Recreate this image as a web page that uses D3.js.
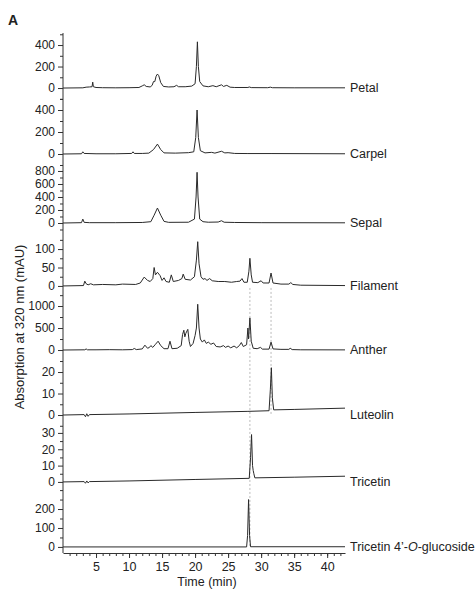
<!DOCTYPE html>
<html>
<head>
<meta charset="utf-8">
<script src="https://cdn.jsdelivr.net/npm/d3@7"></script>
<style>
  body { margin: 0; background: #fff; }
  text { font-family: "Liberation Sans", Arial, sans-serif; fill: #222; }
  .trace { fill: none; stroke: #2a2a2a; stroke-width: 1; stroke-linejoin: round; }
  .axis path, .axis line { stroke: #333; }
</style>
</head>
<body>
<div id="chart"></div>
<script>
// Data: chromatograms as [time (min), absorbance (mAU)]
const petal = [[0,0],[3.0,2],[3.5,8],[4.0,10],[4.4,12],[4.5,55],[4.6,12],[5.0,5],[6,3],[8,2],[10,3],[11.5,5],[12.0,20],[12.3,30],[12.6,15],[13.2,10],[13.5,25],[13.7,60],[13.9,60],[14.1,110],[14.3,130],[14.5,115],[14.8,50],[15.2,15],[16,10],[16.8,12],[17.2,25],[17.5,12],[18.5,12],[19.5,18],[20.0,40],[20.2,200],[20.35,430],[20.5,200],[20.7,60],[21.2,20],[22,12],[22.7,22],[23.2,12],[24.0,30],[24.3,15],[24.8,25],[25.3,8],[26,5],[28,5],[28.2,10],[28.5,4],[31,3],[31.4,8],[31.7,3],[35,2],[42.7,2]]
const carpel = [[0,0],[2.8,2],[3.0,20],[3.2,5],[5,2],[8,2],[10.4,5],[10.6,20],[10.8,5],[12,5],[13,8],[13.7,40],[14.3,90],[14.8,40],[15.3,10],[17,8],[19,12],[19.8,20],[20.1,150],[20.3,400],[20.5,150],[20.8,30],[21.5,10],[22.5,15],[23,8],[24,25],[24.5,10],[25,12],[26,5],[28,4],[31.5,4],[42.7,2]]
const sepal = [[0,0],[2.8,5],[3.0,60],[3.2,10],[4,5],[8,5],[12,8],[13.3,20],[13.8,120],[14.3,230],[14.8,120],[15.3,25],[16,10],[19,12],[19.9,60],[20.15,400],[20.3,780],[20.45,400],[20.7,60],[21.2,20],[22,12],[23.5,15],[24,35],[24.4,12],[26,8],[30,5],[42.7,3]]
const filament = [[0,0],[3.1,1],[3.3,13],[3.5,6],[3.8,3],[4.2,6],[4.6,3],[6,4],[8,3],[9,5],[11,4],[11.7,8],[12.3,24],[12.8,15],[13.2,12],[13.6,20],[13.8,50],[14.0,30],[14.3,37],[14.7,28],[15.0,15],[15.3,22],[15.6,12],[16.1,10],[16.4,30],[16.7,12],[17.5,15],[18.0,20],[18.2,32],[18.5,18],[19.3,16],[19.9,25],[20.2,70],[20.4,120],[20.6,60],[20.9,25],[21.2,18],[21.5,20],[21.8,15],[22.2,20],[22.6,14],[23.5,12],[24.5,12],[25.5,10],[26.3,12],[26.8,13],[27.1,20],[27.4,10],[27.9,10],[28.15,40],[28.3,75],[28.5,30],[28.7,10],[29.5,9],[30.0,14],[30.3,8],[31.2,8],[31.5,35],[31.8,8],[33,5],[34.2,5],[34.5,9],[34.8,4],[36,2],[42.7,1]]
const anther = [[0,0],[3.3,5],[3.5,25],[3.7,5],[5,5],[7,8],[9,5],[10.5,10],[10.8,35],[11.1,10],[12,25],[12.4,110],[12.8,40],[13.1,60],[13.3,100],[13.6,60],[14.0,130],[14.4,200],[14.8,100],[15.3,30],[15.9,30],[16.2,200],[16.5,30],[17.3,40],[17.9,100],[18.1,350],[18.3,450],[18.45,300],[18.6,380],[18.9,470],[19.1,200],[19.3,80],[19.7,150],[20.0,330],[20.2,500],[20.4,1040],[20.6,500],[20.8,250],[21.1,180],[21.4,230],[21.7,150],[22.0,180],[22.4,130],[22.8,160],[23.2,80],[23.8,70],[24.3,100],[24.6,60],[25.0,90],[25.4,50],[25.9,90],[26.3,50],[26.7,100],[27.0,170],[27.3,80],[27.8,120],[28.0,500],[28.1,250],[28.3,730],[28.5,200],[28.8,40],[29.4,30],[29.9,60],[30.2,20],[31.2,20],[31.5,180],[31.8,25],[33,15],[34.2,15],[34.4,40],[34.7,10],[36,5],[42.7,3]]
const luteolin = [[0,0],[3.2,0.2],[3.4,-0.8],[3.6,0.6],[3.8,-0.6],[4.0,0.2],[10,0.5],[20,1.2],[28,1.7],[31.2,2.0],[31.4,12],[31.55,22],[31.7,8],[31.9,2.4],[35,2.6],[42.7,3.2]]
const tricetin = [[0,0],[3.2,0.2],[3.4,-0.8],[3.6,0.6],[3.8,-0.6],[4.0,0.2],[10,0.6],[20,1.5],[28.2,2.2],[28.4,15],[28.55,29],[28.7,10],[28.8,7],[28.9,5],[29.05,2.5],[35,2.9],[42.7,3.5]]
const glucoside = [[0,0],[27.8,0],[27.95,60],[28.1,250],[28.25,60],[28.4,1],[42.7,1]]

const panelNames = ["Petal", "Carpel", "Sepal", "Filament", "Anther", "Luteolin", "Tricetin", "Tricetin 4\u2019-O-glucoside"]
const panelData = [petal, carpel, sepal, filament, anther, luteolin, tricetin, glucoside]
const panelDomains = [[-102, 512], [-100, 500], [-123, 892], [-30, 149], [-295, 1205], [-6.5, 24.2], [-8, 32.4], [-32, 274]]
const majorTicks = [[0, 200, 400], [0, 200, 400], [0, 200, 400, 600, 800], [0, 50, 100], [0, 500, 1000], [0, 10, 20], [0, 10, 20, 30], [0, 100, 200]]
const minorTicks = [[-100, 100, 300, 500], [-100, 100, 300, 500], [-100, 100, 300, 500, 700], [-25, 25, 75, 125], [-250, 250, 750], [-5, 5, 15], [-5, 5, 15, 25], [50, 150, 250]]
const xMajorTicks = [5, 10, 15, 20, 25, 30, 35, 40]
const xMinorTicks = d3.range(1, 43)
// Retention-time guide lines: [time, first panel, last panel]
const guideLines = [[28.3, 3, 7], [31.5, 3, 5]]

// Dimensions
const width = 475, height = 590
const plotLeft = 63, plotRight = 345
const plotTop = 33, panelHeight = 66, plotBottom = 553

const svg = d3.select("#chart").append("svg")
    .attr("width", width)
    .attr("height", height)

const xScale = d3.scaleLinear()
    .domain([0, 42.7])
    .range([plotLeft, plotRight])

const yScales = panelDomains.map(function(dom, i) {
  const top = plotTop + panelHeight * i
  const bottom = Math.min(top + panelHeight, plotBottom)
  return d3.scaleLinear().domain(dom).range([bottom, top])
})

// Guide lines
guideLines.forEach(function(g) {
  svg.append("line")
    .attr("x1", xScale(g[0])).attr("x2", xScale(g[0]))
    .attr("y1", yScales[g[1]](0) + 2)
    .attr("y2", yScales[g[2]](0))
    .attr("stroke", "#aaa")
    .attr("stroke-width", 0.8)
    .attr("stroke-dasharray", "2,2")
})

// Y axes per panel
panelData.forEach(function(data, i) {
  const y = yScales[i]

  const gMinor = svg.append("g")
    .attr("class", "axis")
    .attr("transform", `translate(${plotLeft},0)`)
    .call(d3.axisLeft(y).tickValues(minorTicks[i]).tickSize(3).tickFormat(""))
  gMinor.select(".domain").remove()

  const gMajor = svg.append("g")
    .attr("class", "axis")
    .attr("transform", `translate(${plotLeft},0)`)
    .style("font-size", "12px")
    .call(d3.axisLeft(y).tickValues(majorTicks[i]).tickSize(5).tickPadding(3).tickFormat(d3.format("d")))
  gMajor.select(".domain").remove()
  gMajor.selectAll("text").style("font-family", "Liberation Sans, Arial, sans-serif").attr("fill", "#222")

  // Trace
  const line = d3.line()
    .x(function(d) { return xScale(d[0]) })
    .y(function(d) { return y(d[1]) })

  svg.append("path")
    .datum(data)
    .attr("class", "trace")
    .attr("d", line)

  // Panel label
  const label = svg.append("text")
    .attr("x", plotRight + 5)
    .attr("y", y(0))
    .attr("dy", "0.35em")
    .style("font-size", "12.5px")
  if (panelNames[i].indexOf("-O-") >= 0) {
    const parts = panelNames[i].split("-O-")
    label.append("tspan").text(parts[0] + "-")
    label.append("tspan").style("font-style", "italic").text("O")
    label.append("tspan").text("-" + parts[1])
  } else {
    label.text(panelNames[i])
  }
})

// Y axis line
svg.append("line")
  .attr("x1", plotLeft).attr("x2", plotLeft)
  .attr("y1", plotTop).attr("y2", plotBottom)
  .attr("stroke", "#333")

// X axis
const xMinor = svg.append("g")
  .attr("class", "axis")
  .attr("transform", `translate(0,${plotBottom})`)
  .call(d3.axisBottom(xScale).tickValues(xMinorTicks).tickSize(3).tickFormat(""))
xMinor.select(".domain").remove()

const xMajor = svg.append("g")
  .attr("class", "axis")
  .attr("transform", `translate(0,${plotBottom})`)
  .style("font-size", "12.5px")
  .call(d3.axisBottom(xScale).tickValues(xMajorTicks).tickSize(5).tickPadding(4).tickSizeOuter(0))
xMajor.selectAll("text").style("font-family", "Liberation Sans, Arial, sans-serif").attr("fill", "#222")

// Axis titles
svg.append("text")
  .attr("x", (xScale(0) + xScale(42.7)) / 2 + 3)
  .attr("y", 586)
  .attr("text-anchor", "middle")
  .style("font-size", "12.5px")
  .text("Time (min)")

svg.append("text")
  .attr("transform", "translate(24,327) rotate(-90)")
  .attr("text-anchor", "middle")
  .style("font-size", "13px")
  .text("Absorption at 320 nm (mAU)")

svg.append("text")
  .attr("x", 8)
  .attr("y", 25)
  .style("font-size", "14px")
  .style("font-weight", "bold")
  .text("A")
</script>
</body>
</html>
